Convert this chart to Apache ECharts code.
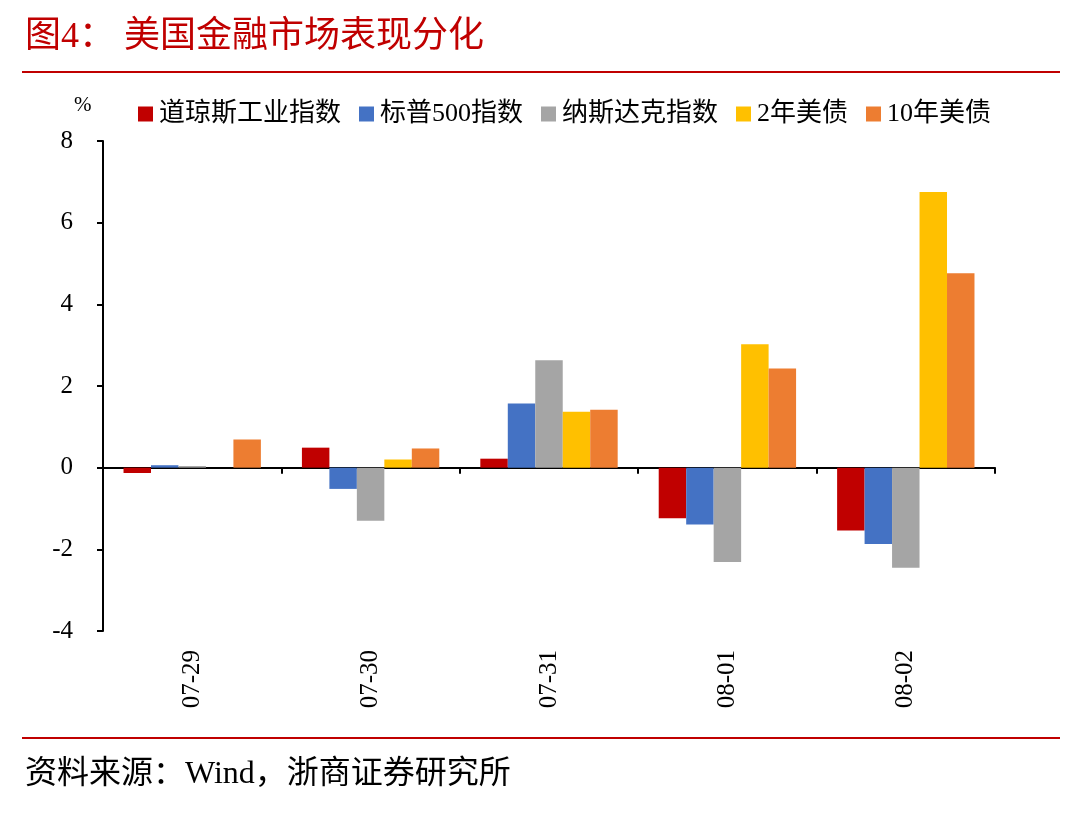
<!DOCTYPE html>
<html><head><meta charset="utf-8">
<script src="https://cdn.jsdelivr.net/npm/echarts@6/dist/echarts.min.js"></script>
<style>html,body{margin:0;padding:0;background:#fff}#c{width:1080px;height:818px}</style>
</head><body><div id="c"></div>
<script>
const categories = ['07-29','07-30','07-31','08-01','08-02'];
const seriesNames = ['道琼斯工业指数','标普500指数','纳斯达克指数','2年美债','10年美债'];
const dow = [-0.13, 0.49, 0.22, -1.24, -1.54];
const spx = [0.06, -0.52, 1.57, -1.39, -1.87];
const nasdaq = [0.04, -1.30, 2.63, -2.31, -2.45];
const ust2y = [0.00, 0.20, 1.37, 3.02, 6.75];
const ust10y = [0.69, 0.47, 1.42, 2.43, 4.76];
const yTicks = { min: -4, max: 8, interval: 2 };
const colors = ['#C00000','#4472C4','#A5A5A5','#FFC000','#ED7D31'];
const values = [dow, spx, nasdaq, ust2y, ust10y];

const serif = '"Liberation Serif","Times New Roman","Noto Sans CJK SC",serif';
const chart = echarts.init(document.getElementById('c'));
chart.setOption({
  animation: false,
  color: colors,
  grid: { left: 103, right: 85, top: 141, bottom: 187, containLabel: false },
  legend: {
    left: 133, top: 96, itemWidth: 15, itemHeight: 15, itemGap: 18,
    icon: 'rect',
    textStyle: { fontFamily: serif, fontSize: 26, color: '#000', padding: [0,0,0,1] },
    data: seriesNames
  },
  xAxis: [{
    type: 'category', data: categories,
    axisLine: { onZero: true, lineStyle: { color: '#000', width: 2 } },
    axisTick: { show: true, length: 6, lineStyle: { color: '#000', width: 2 } },
    axisLabel: { show: false }
  }, {
    type: 'category', data: categories, position: 'bottom',
    axisLine: { show: false, onZero: false }, axisTick: { show: false },
    axisLabel: { rotate: 90, margin: 19, fontFamily: serif, fontSize: 25, color: '#000' }
  }],
  yAxis: {
    type: 'value', min: yTicks.min, max: yTicks.max, interval: yTicks.interval,
    splitLine: { show: false },
    axisLine: { show: true, lineStyle: { color: '#000', width: 2 } },
    axisTick: { show: true, length: 6, lineStyle: { color: '#000', width: 2 } },
    axisLabel: { margin: 30, fontFamily: serif, fontSize: 25, color: '#000' }
  },
  series: seriesNames.map((n, i) => ({
    name: n, type: 'bar', xAxisIndex: 0, data: values[i],
    barGap: '0%', barCategoryGap: '23%'
  })),
  graphic: [
    { type: 'text', x: 25, y: 38, style: { text: '图4：', fill: '#C00000', font: '36px "Liberation Serif","Noto Sans CJK SC",serif', verticalAlign: 'middle' } },
    { type: 'text', x: 124, y: 38, style: { text: '美国金融市场表现分化', fill: '#C00000', font: '36px "Liberation Serif","Noto Sans CJK SC",serif', verticalAlign: 'middle' } },
    { type: 'line', shape: { x1: 22, y1: 72, x2: 1060, y2: 72 }, style: { stroke: '#C00000', lineWidth: 2 } },
    { type: 'text', x: 74, y: 105, style: { text: '%', fill: '#000', font: '21px "Liberation Serif",serif', verticalAlign: 'middle' } },
    { type: 'line', shape: { x1: 22, y1: 738, x2: 1060, y2: 738 }, style: { stroke: '#C00000', lineWidth: 2 } },
    { type: 'text', x: 25, y: 775, style: { text: '资料来源：Wind，浙商证券研究所', fill: '#000', font: '32px "Liberation Serif","Noto Sans CJK SC",serif', verticalAlign: 'middle' } }
  ]
});
</script></body></html>
